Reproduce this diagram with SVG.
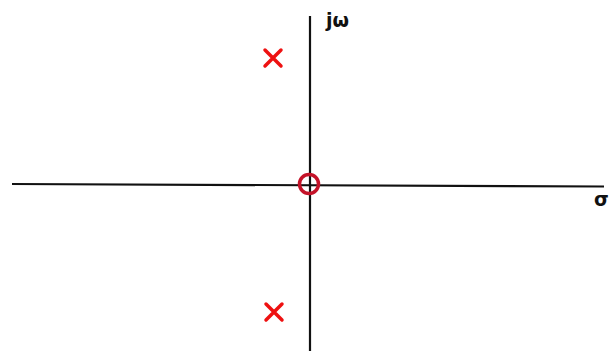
<svg xmlns="http://www.w3.org/2000/svg" width="609" height="351" viewBox="0 0 609 351">
<style>
.axis{stroke:#111;stroke-width:2.2;fill:none}
.x{stroke:#ee1111;stroke-width:3.5;stroke-linecap:round}
.lbl{font-family:"DejaVu Sans",sans-serif;font-weight:bold;fill:#111}
</style>
<rect width="609" height="351" fill="#fff"/>
<g id="connectors">
<line class="axis" x1="12" y1="184" x2="604" y2="186.5"/>
<line class="axis" x1="310" y1="16" x2="310" y2="351"/>
</g>
<g id="pole1"><path class="x" d="M265 50 L281 66 M281 50 L265 66"/></g>
<g id="pole2"><path class="x" d="M266 304 L282 320 M282 304 L266 320"/></g>
<g id="zero"><circle cx="309" cy="184" r="9.5" fill="none" stroke="#c41228" stroke-width="3.5"/></g>
<g id="label-jw"><text class="lbl" x="326" y="27" font-size="19">jω</text></g>
<g id="label-sigma"><text class="lbl" x="594" y="206" font-size="19">σ</text></g>
</svg>
